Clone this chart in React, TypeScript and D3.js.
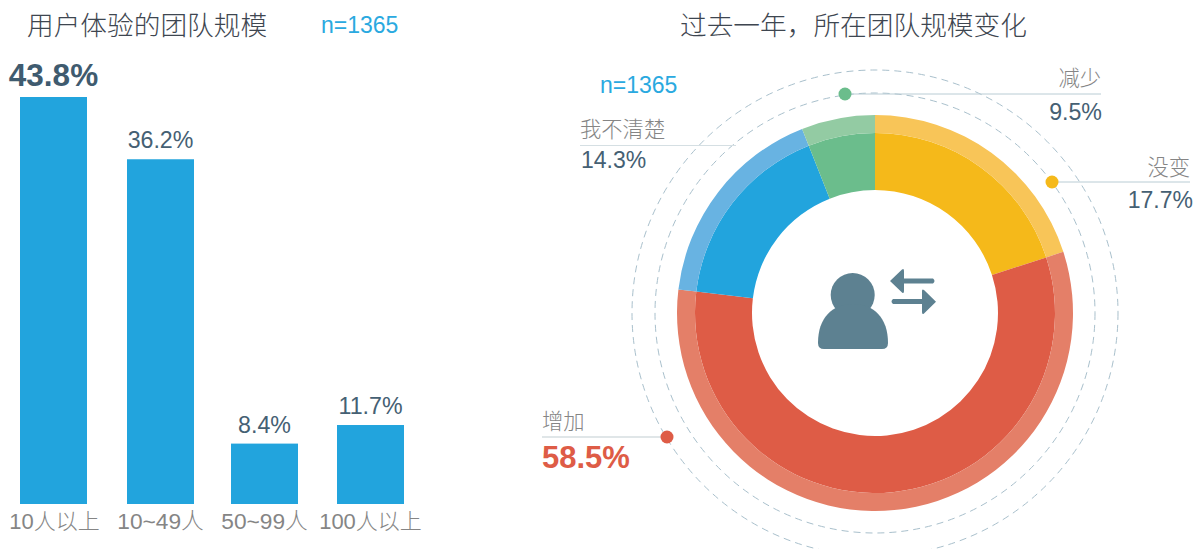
import React from "react";
import * as d3 from "d3";

const barCategories = ["10人以上", "10~49人", "50~99人", "100人以上"];
const barLabels = ["43.8%", "36.2%", "8.4%", "11.7%"];
// bar heights as drawn in the picture, in percentage units of the tallest bar
const barHeights = [43.8, 37.1, 6.5, 8.5];

const sliceNames = ["没变", "增加", "我不清楚", "减少"];
const sliceLabels = ["17.7%", "58.5%", "14.3%", "9.5%"];
// slice shares as drawn in the picture
const sliceShares = [20, 56.9, 17.1, 6.0];
const sliceInner = ["#f5b91a", "#de5c46", "#22a4dd", "#6bbd8c"];
const sliceOuter = ["#f8c558", "#e47f68", "#68b3e2", "#93cba3"];

const LATIN = "'Liberation Sans', 'Noto Sans CJK SC', sans-serif";
const cx = 875;
const cy = 313;
const BAR_W = 67;

const x = d3.scaleOrdinal<string, number>().domain(barCategories).range([20, 127, 231, 337]);
const y = d3.scaleLinear().domain([0, 43.8]).range([504, 97]);

const pieAngles = d3.pie<number>().sort(null).value((d) => d)(sliceShares);
const innerArc = d3.arc<d3.PieArcDatum<number>>().innerRadius(123).outerRadius(180);
const outerArc = d3.arc<d3.PieArcDatum<number>>().innerRadius(180).outerRadius(198);

const DARK = "#456073";
const GREY = "#858585";
const BLUE = "#2aa9e0";

export default function App() {
  return (
    <svg width={1204} height={549} style={{ position: "absolute", left: 0, top: 0, background: "#fff" }} fontFamily={LATIN}>
      <text x={27} y={35} fontSize={26.7} fill="#3e4650" fontWeight={300}>用户体验的团队规模</text>
      <text x={321} y={33} fontSize={23} fill={BLUE}>n=1365</text>
      <text x={680} y={35} fontSize={26.7} fill="#3e4650" fontWeight={300}>过去一年，所在团队规模变化</text>
      <text x={600} y={93} fontSize={23} fill={BLUE}>n=1365</text>

      {barCategories.map((c, i) => {
        const bx = x(c);
        const mid = bx + BAR_W / 2;
        return (
          <g key={c}>
            <rect x={bx} y={y(barHeights[i])} width={BAR_W} height={504 - y(barHeights[i])} fill="#22a4dd" />
            <text
              x={mid}
              y={y(barHeights[i]) - 11}
              textAnchor="middle"
              fontSize={i === 0 ? 31.5 : 23.2}
              fontWeight={i === 0 ? 700 : 400}
              fill={i === 0 ? "#3f5b6f" : DARK}
            >
              {barLabels[i]}
            </text>
            <text x={mid + (i === 0 ? 1 : 0)} y={529} textAnchor="middle" fontSize={c.includes("~") ? 22.7 : 22} fill={GREY} fontWeight={300}>{c}</text>
          </g>
        );
      })}

      <circle cx={cx} cy={cy} r={220} fill="none" stroke="#a9c0cc" strokeWidth={1} strokeDasharray="7 5" />
      <circle cx={cx} cy={cy} r={243} fill="none" stroke="#a9c0cc" strokeWidth={1} strokeDasharray="7 5" />

      <g transform={`translate(${cx},${cy})`}>
        {pieAngles.map((p, i) => (
          <g key={sliceNames[i]}>
            <path d={innerArc(p)!} fill={sliceInner[i]} />
            <path d={outerArc(p)!} fill={sliceOuter[i]} />
          </g>
        ))}
      </g>

      <g fill="#5d8191">
        <circle cx={852.7} cy={295} r={22} />
        <path d="M818 343 C818 318 832 304 853 304 C874 304 888 318 888 343 Q888 349 882 349 L824 349 Q818 349 818 343 Z" />
        <path d="M890 281 L902 269.5 Q904 268 904 271 L904 278.5 L933 278.5 Q936 281 933 283.5 L904 283.5 L904 291 Q904 294 902 292.5 Z" />
        <path d="M936 301.7 L924 290 Q922 288.5 922 291 L922 299 L893 299 Q890 301.7 893 304 L922 304 L922 312 Q922 315 924 313.5 Z" />
      </g>

      {/* 减少 */}
      <line x1={845} y1={94} x2={1101} y2={94} stroke="#b9ccd4" strokeWidth={1} />
      <circle cx={845} cy={94} r={6.5} fill="#6bbd8c" />
      <text x={1101} y={86} textAnchor="end" fontSize={21.3} fill={GREY} fontWeight={300}>{sliceNames[3]}</text>
      <text x={1102} y={120} textAnchor="end" fontSize={23.2} fill={DARK}>{sliceLabels[3]}</text>

      {/* 没变 */}
      <line x1={1052} y1={182} x2={1190} y2={182} stroke="#b9ccd4" strokeWidth={1} />
      <circle cx={1052} cy={182} r={6.5} fill="#f5b91a" />
      <text x={1190} y={175} textAnchor="end" fontSize={21.3} fill={GREY} fontWeight={300}>{sliceNames[0]}</text>
      <text x={1193} y={208} textAnchor="end" fontSize={23} fill={DARK}>{sliceLabels[0]}</text>

      {/* 我不清楚 */}
      <line x1={580} y1={145.5} x2={736} y2={145.5} stroke="#d5dfe3" strokeWidth={1} />
      <text x={580} y={137} fontSize={21.3} fill={GREY} fontWeight={300}>{sliceNames[2]}</text>
      <text x={581} y={168} fontSize={23} fill={DARK}>{sliceLabels[2]}</text>

      {/* 增加 */}
      <line x1={542} y1={437} x2={667} y2={437} stroke="#e0e6e8" strokeWidth={2} />
      <circle cx={667} cy={437} r={6.5} fill="#de5c46" />
      <text x={542} y={429} fontSize={21.3} fill={GREY} fontWeight={300}>{sliceNames[1]}</text>
      <text x={542} y={468} fontSize={31} fontWeight={700} fill="#de5c46">{sliceLabels[1]}</text>
    </svg>
  );
}
